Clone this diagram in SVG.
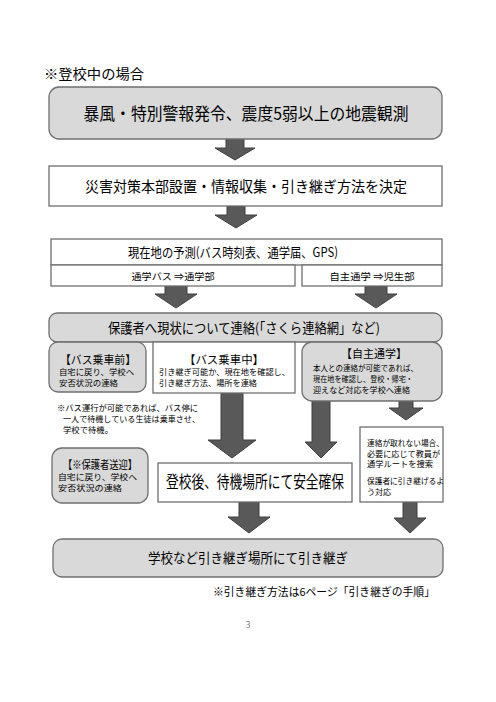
<svg xmlns="http://www.w3.org/2000/svg" width="496" height="702" viewBox="0 0 496 702">
<style>
text{font-family:"Noto Sans CJK JP","Noto Sans",sans-serif;fill:#000}
.gray{fill:#d9d9d9;stroke:#6f6f6f;stroke-width:1.3}
.white{fill:#fff;stroke:#6f6f6f;stroke-width:1.3}
.arr{fill:#595959;stroke:#3f3f3f;stroke-width:1}
.c{text-anchor:middle}
.s{font-size:8.3px}
.h{font-size:11.5px}
</style>
<rect width="496" height="702" fill="#fff"/>
<text x="44" y="79" style="font-size:14px" textLength="100" lengthAdjust="spacingAndGlyphs">※登校中の場合</text>

<g id="connectors">
<polygon class="arr" points="226,139 244,139 244,148 255,148 235,160 215,148 226,148"/>
<polygon class="arr" points="227,206 245,206 245,215 257,215 236,228 215,215 227,215"/>
<polygon class="arr" points="165,286 187,286 187,294 197,294 176,308 155,294 165,294"/>
<polygon class="arr" points="365,286 387,286 387,294 397,294 376,308 355,294 365,294"/>
<polygon class="arr" points="221,393 243,393 243,440 256,440 232,458 208,440 221,440"/>
<polygon class="arr" points="312,401 330,401 330,442 337,442 321,458 305,442 312,442"/>
<polygon class="arr" points="399,401 413,401 413,408 423,408 406,420 389,408 399,408"/>
<polygon class="arr" points="239,502 259,502 259,517 270,517 249,533 228,517 239,517"/>
<polygon class="arr" points="403,502 417,502 417,518 426,518 410,533 394,518 403,518"/>
</g>

<g id="n1">
<rect class="gray" x="49" y="87" width="393" height="52" rx="10"/>
<text x="246" y="120" class="c" style="font-size:17px" textLength="325" lengthAdjust="spacingAndGlyphs">暴風・特別警報発令、震度5弱以上の地震観測</text>
</g>
<g id="n2">
<rect class="white" x="49" y="166" width="393" height="40"/>
<text x="246" y="192" class="c" style="font-size:15px" textLength="322" lengthAdjust="spacingAndGlyphs">災害対策本部設置・情報収集・引き継ぎ方法を決定</text>
</g>
<g id="n3">
<rect class="white" x="51" y="239" width="391" height="26"/>
<text x="233" y="257" class="c" style="font-size:13px" textLength="210" lengthAdjust="spacingAndGlyphs">現在地の予測(バス時刻表、通学届、GPS)</text>
</g>
<g id="n3a">
<rect class="white" x="51" y="265" width="244" height="21"/>
<text x="173" y="280" class="c" style="font-size:9.5px" textLength="83" lengthAdjust="spacingAndGlyphs">通学バス ⇒通学部</text>
</g>
<g id="n3b">
<rect class="white" x="302" y="265" width="140" height="21"/>
<text x="372" y="280" class="c" style="font-size:9.5px" textLength="85" lengthAdjust="spacingAndGlyphs">自主通学 ⇒児生部</text>
</g>
<g id="n4">
<rect class="gray" x="49" y="313" width="393" height="29" rx="8"/>
<text x="244" y="333" class="c" style="font-size:13.5px" textLength="272" lengthAdjust="spacingAndGlyphs">保護者へ現状について連絡(「さくら連絡網」など)</text>
</g>
<g id="n5a">
<rect class="gray" x="49" y="342" width="97" height="50" rx="9"/>
<text x="98" y="364" class="c h" textLength="76" lengthAdjust="spacingAndGlyphs">【バス乗車前】</text>
<text x="59" y="375" class="s" textLength="75" lengthAdjust="spacingAndGlyphs">自宅に戻り、学校へ</text>
<text x="59" y="386" class="s" textLength="59" lengthAdjust="spacingAndGlyphs">安否状況の連絡</text>
</g>
<g id="n5b">
<rect class="white" x="153" y="342" width="142" height="51"/>
<text x="224" y="364" class="c h" textLength="80" lengthAdjust="spacingAndGlyphs">【バス乗車中】</text>
<text x="159" y="375" class="s" textLength="131" lengthAdjust="spacingAndGlyphs">引き継ぎ可能か、現在地を確認し、</text>
<text x="159" y="386" class="s" textLength="98" lengthAdjust="spacingAndGlyphs">引き継ぎ方法、場所を連絡</text>
</g>
<g id="n5c">
<rect class="gray" x="302" y="342" width="140" height="59" rx="10"/>
<text x="374" y="358" class="c h" textLength="66" lengthAdjust="spacingAndGlyphs">【自主通学】</text>
<text x="313" y="371" class="s" textLength="105" lengthAdjust="spacingAndGlyphs">本人との連絡が可能であれば、</text>
<text x="313" y="382" class="s" textLength="100" lengthAdjust="spacingAndGlyphs">現在地を確認し、登校・帰宅・</text>
<text x="313" y="393" class="s" textLength="97" lengthAdjust="spacingAndGlyphs">迎えなど対応を学校へ連絡</text>
</g>
<g id="note1">
<text x="57" y="411" class="s" textLength="141" lengthAdjust="spacingAndGlyphs">※バス運行が可能であれば、バス停に</text>
<text x="63" y="422" class="s" textLength="137" lengthAdjust="spacingAndGlyphs">一人で待機している生徒は乗車させ、</text>
<text x="63" y="433" class="s" textLength="50" lengthAdjust="spacingAndGlyphs">学校で待機。</text>
</g>
<g id="n6a">
<rect class="white" x="360" y="427" width="83" height="75"/>
<text x="367" y="446" class="s" textLength="77" lengthAdjust="spacingAndGlyphs">連絡が取れない場合、</text>
<text x="367" y="457" class="s" textLength="73" lengthAdjust="spacingAndGlyphs">必要に応じて教員が</text>
<text x="367" y="467" class="s" textLength="66" lengthAdjust="spacingAndGlyphs">通学ルートを捜索</text>
<text x="367" y="484" class="s" textLength="77" lengthAdjust="spacingAndGlyphs">保護者に引き継げるよ</text>
<text x="367" y="495" class="s" textLength="24" lengthAdjust="spacingAndGlyphs">う対応</text>
</g>
<g id="n6b">
<rect class="gray" x="52" y="448" width="96" height="55" rx="10"/>
<text x="100" y="469" class="c h" textLength="74" lengthAdjust="spacingAndGlyphs">【※保護者送迎】</text>
<text x="58" y="480" class="s" textLength="79" lengthAdjust="spacingAndGlyphs">自宅に戻り、学校へ</text>
<text x="58" y="491" class="s" textLength="64" lengthAdjust="spacingAndGlyphs">安否状況の連絡</text>
</g>
<g id="n6c">
<rect class="white" x="158" y="463" width="194" height="39"/>
<text x="255" y="488" class="c" style="font-size:16.5px" textLength="178" lengthAdjust="spacingAndGlyphs">登校後、待機場所にて安全確保</text>
</g>
<g id="n7">
<rect class="gray" x="53" y="539" width="390" height="38" rx="9"/>
<text x="248" y="563" class="c" style="font-size:14px" textLength="200" lengthAdjust="spacingAndGlyphs">学校など引き継ぎ場所にて引き継ぎ</text>
</g>
<text x="435" y="596" style="font-size:11px;text-anchor:end" textLength="222" lengthAdjust="spacingAndGlyphs">※引き継ぎ方法は6ページ「引き継ぎの手順」</text>
<text x="248" y="628" class="c" style="font-size:9px;fill:#888">3</text>
</svg>
